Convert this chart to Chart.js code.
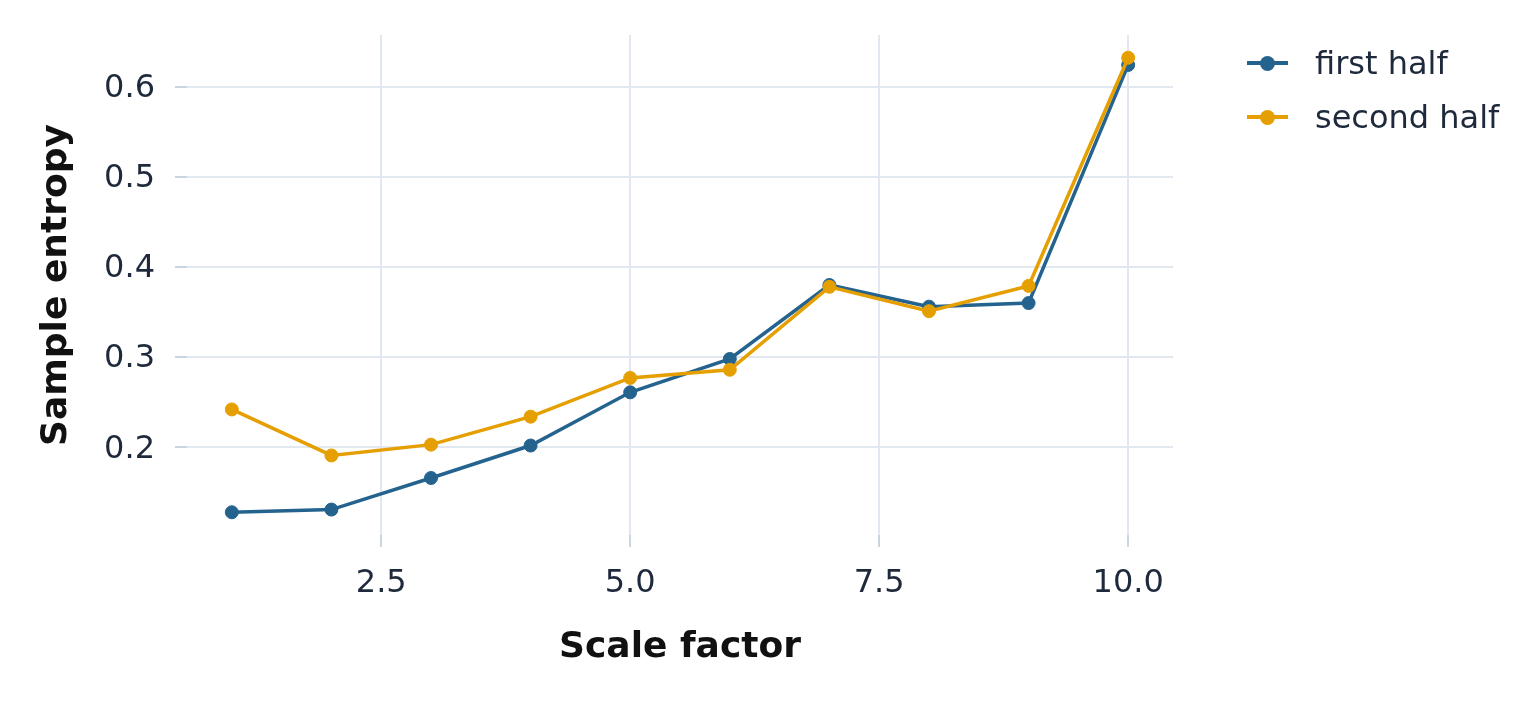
<!DOCTYPE html>
<html lang="en">
<head>
    <meta charset="UTF-8">
    <title>Sample entropy by scale factor</title>
    <script src="https://cdn.jsdelivr.net/npm/chart.js@4.4.1/dist/chart.umd.min.js"></script>
    <style>
        body { margin: 0; background: #fff; font-family: "DejaVu Sans", sans-serif; }
        #wrap { position: relative; width: 1540px; height: 704px; }
        .legend { position: absolute; left: 1247px; top: 36px; color: #1e293b; font-size: 32px; }
        .legend .row { position: relative; height: 54px; display: flex; align-items: center; }
        .legend .key { position: relative; width: 41px; height: 4px; margin-right: 27px; }
        .legend .key span { position: absolute; left: 13px; top: -5.5px; width: 15px; height: 15px; border-radius: 50%; }
    </style>
</head>
<body>
<div id="wrap">
    <canvas id="chart" width="1540" height="704"></canvas>
    <div class="legend" id="legend"></div>
</div>

<script>
    // data
    const scaleFactors = [1, 2, 3, 4, 5, 6, 7, 8, 9, 10];
    const firstHalf  = [0.128, 0.131, 0.166, 0.202, 0.261, 0.298, 0.380, 0.356, 0.360, 0.624];
    const secondHalf = [0.242, 0.191, 0.203, 0.234, 0.277, 0.286, 0.378, 0.351, 0.379, 0.632];
    const seriesNames = ['first half', 'second half'];
    const xTicks = [2.5, 5.0, 7.5, 10.0];
    const yTicks = [0.2, 0.3, 0.4, 0.5, 0.6];

    const colors = ['#25638f', '#e69f00'];

    // ggplot style 5% expansion
    const allY = firstHalf.concat(secondHalf);
    const yLo = Math.min(...allY), yHi = Math.max(...allY);
    const yPad = (yHi - yLo) * 0.05;
    const xPad = (scaleFactors[scaleFactors.length - 1] - scaleFactors[0]) * 0.05;

    function toPoints(ys) {
        return scaleFactors.map((x, i) => ({ x: x, y: ys[i] }));
    }

    const datasets = [firstHalf, secondHalf].map((ys, i) => ({
        label: seriesNames[i],
        data: toPoints(ys),
        borderColor: colors[i],
        backgroundColor: colors[i],
        borderWidth: 3.5,
        pointRadius: 6.5,
        pointBorderWidth: 1,
        pointHoverRadius: 6.5,
        order: 2 - i,
        tension: 0
    }));

    const tickFont = { family: 'DejaVu Sans', size: 32 };
    const titleFont = { family: 'DejaVu Sans', size: 36, weight: 'bold' };

    new Chart(document.getElementById('chart'), {
        type: 'line',
        data: { datasets: datasets },
        options: {
            responsive: false,
            animation: false,
            layout: { padding: { left: 0, right: 367, top: 35, bottom: 0 } },
            plugins: { legend: { display: false }, tooltip: { enabled: false } },
            scales: {
                x: {
                    type: 'linear',
                    min: scaleFactors[0] - xPad,
                    max: scaleFactors[scaleFactors.length - 1] + xPad,
                    afterBuildTicks: s => { s.ticks = xTicks.map(v => ({ value: v })); },
                    afterFit: s => { s.height = 169; s.paddingLeft = 0; s.paddingRight = 0; },
                    ticks: { color: '#1e293b', font: tickFont, padding: 17, maxRotation: 0,
                             callback: v => v.toFixed(1) },
                    grid: { color: '#e2e8f0', lineWidth: 2, tickColor: '#cbd5e1', tickLength: 12 },
                    border: { display: false },
                    title: { display: true, text: 'Scale factor', color: '#111111', font: titleFont,
                             padding: { top: 0, bottom: 35 } }
                },
                y: {
                    min: yLo - yPad,
                    max: yHi + yPad,
                    afterBuildTicks: s => { s.ticks = yTicks.map(v => ({ value: v })); },
                    afterFit: s => { s.width = 187; s.paddingTop = 0; s.paddingBottom = 0; },
                    ticks: { color: '#1e293b', font: tickFont, padding: 20, labelOffset: 2,
                             callback: v => v.toFixed(1) },
                    grid: { color: '#e2e8f0', lineWidth: 2, tickColor: '#cbd5e1', tickLength: 12 },
                    border: { display: false },
                    title: { display: true, text: 'Sample entropy', color: '#111111', font: titleFont,
                             padding: { top: 35, bottom: 0 } }
                }
            }
        }
    });

    // legend
    const legend = document.getElementById('legend');
    seriesNames.forEach((name, i) => {
        const row = document.createElement('div');
        row.className = 'row';
        row.innerHTML = `<div class="key" style="background:${colors[i]}"><span style="background:${colors[i]}"></span></div>${name}`;
        legend.appendChild(row);
    });
</script>
</body>
</html>
